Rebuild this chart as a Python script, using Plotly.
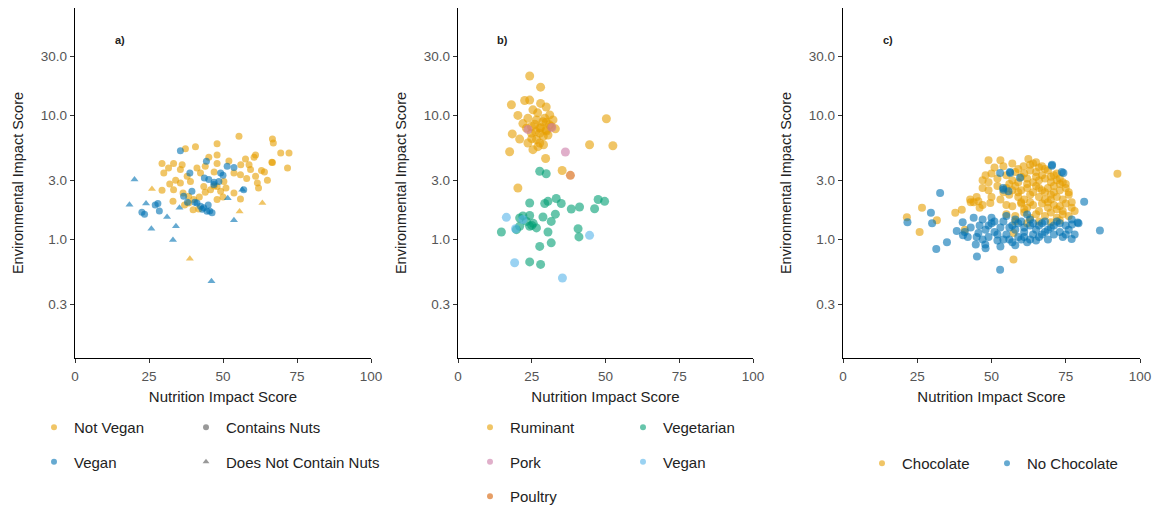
import plotly.graph_objects as go

# ---------------- Panel a: vegan status x nut content ----------------
a_nv_nuts_x = [37.3, 40.7, 48.0, 55.4, 66.7, 67.0, 69.5, 72.3, 71.8, 66.7, 61.0, 57.6, 48.0, 48.0,
               29.4, 33.3, 36.2, 30.0, 35.6, 37.9, 41.2, 35.6, 33.3, 29.4, 36.5, 38.4, 40.1, 33.1,
               38.4, 39.9, 41.8, 48.0, 49.2, 45.8, 50.3, 53.7, 55.9, 59.3, 61.0, 61.6, 58.8, 53.7,
               55.9, 48.0, 43.5, 39.0, 42.4, 45.2, 31.6, 60.5, 66.5, 64.0, 51.0,
               44.0, 47.0, 52.0, 56.0, 58.0, 63.0, 65.0, 62.0, 34.0, 32.0, 44.0, 50.0, 47.0, 42.0, 37.0]
a_nv_nuts_y = [5.4, 5.6, 5.9, 6.8, 6.45, 6.0, 4.97, 4.97, 3.77, 4.18, 4.8, 4.45, 4.8, 4.1,
               4.1, 4.1, 4.0, 3.44, 3.66, 3.23, 3.77, 2.86, 2.52, 2.5, 2.37, 2.23, 2.1, 2.03,
               1.97, 1.74, 1.76, 2.68, 2.45, 2.52, 2.94, 3.44, 3.33, 3.66, 3.23, 2.86, 4.0, 2.37,
               2.12, 2.1, 2.68, 2.94, 3.44, 4.6, 3.77, 4.6, 4.2, 3.5, 2.6,
               3.9, 3.5, 4.3, 4.0, 3.1, 3.6, 3.0, 2.6, 3.0, 2.8, 2.4, 2.2, 2.7, 2.2, 1.9]
a_nv_nonuts_x = [38.8, 63.3, 55.6, 26.0]
a_nv_nonuts_y = [0.70, 1.97, 1.68, 2.55]
a_v_nuts_x = [22.6, 23.5, 27.1, 28.0, 35.6, 38.8, 39.5, 41.2, 42.4, 43.5, 44.6, 46.3, 44.4, 43.7,
              45.2, 49.2, 51.4, 53.7, 46.9, 48.6, 57.0, 36.7, 40.5, 45.5,
              47.0, 50.0, 43.0, 45.0, 28.5, 38.0]
a_v_nuts_y = [1.66, 1.60, 1.90, 1.95, 5.2, 3.44, 2.45, 1.97, 1.85, 1.80, 1.69, 1.64, 4.27, 3.13,
              3.04, 3.44, 3.9, 3.8, 2.77, 2.94, 2.52, 2.23, 2.0, 1.7,
              2.9, 3.3, 1.75, 1.9, 1.7, 2.0]
a_v_nonuts_x = [20.1, 18.4, 24.0, 25.8, 31.1, 34.1, 33.1, 35.3, 53.7, 46.1, 51.6, 56.5]
a_v_nonuts_y = [3.04, 1.91, 1.95, 1.22, 1.52, 1.28, 0.99, 1.80, 1.43, 0.46, 2.15, 2.52]

# ---------------- Panel b: protein source ----------------
b_rum_x = [24.3, 28.0, 18.1, 22.6, 24.3, 20.3, 25.4, 29.9, 31.1, 29.4, 26.6, 24.9, 23.2, 27.7,
           29.9, 31.6, 18.4, 20.9, 23.7, 26.6, 28.9, 25.4, 27.1, 17.5, 24.9, 27.7, 29.7, 35.3,
           50.3, 44.6, 52.5, 20.3, 29.9, 32.2, 30.5, 27.7, 26.3, 28.8, 23.7,
           26.0, 28.0, 30.0, 27.0, 31.0, 25.0, 29.0, 22.0, 33.0, 28.0]
b_rum_y = [20.8, 16.9, 12.2, 13.2, 13.3, 10.0, 11.1, 11.7, 10.1, 9.5, 9.2, 8.15, 7.9, 7.9,
           7.65, 8.15, 7.1, 6.45, 6.0, 6.4, 6.8, 5.3, 5.6, 5.1, 7.2, 7.2, 4.5, 3.6,
           9.4, 5.8, 5.7, 2.6, 8.8, 9.2, 6.96, 6.0, 7.4, 8.9, 9.5,
           8.5, 8.0, 7.5, 10.5, 8.4, 6.5, 5.8, 8.6, 7.8, 12.5]
b_pork_x = [36.4, 31.8, 23.7]
b_pork_y = [5.07, 8.0, 7.7]
b_poultry_x = [38.1]
b_poultry_y = [3.29]
b_veg_x = [27.7, 29.9, 24.3, 29.4, 30.5, 33.3, 38.4, 41.2, 46.3, 47.5, 49.7, 20.9, 24.3, 28.8,
           31.6, 14.7, 19.8, 20.9, 24.3, 26.6, 30.5, 40.7, 41.0, 27.7, 31.6, 24.3, 28.0, 23.2, 25.5,
           25.0, 22.0, 33.0, 35.0]
b_veg_y = [3.55, 3.39, 1.97, 1.95, 2.03, 2.14, 1.76, 1.83, 1.77, 2.1, 2.03, 1.49, 1.56, 1.52,
           1.40, 1.15, 1.20, 1.28, 1.28, 1.24, 1.15, 1.22, 1.05, 0.88, 0.94, 0.66, 0.63, 1.40, 1.35,
           1.3, 1.55, 1.6, 1.95]
b_vegan_x = [16.4, 19.5, 19.2, 35.4, 44.6, 22.0]
b_vegan_y = [1.51, 1.22, 0.65, 0.49, 1.08, 1.45]

# ---------------- Panel c: chocolate content ----------------
c_choc_x = [49, 53, 62.4, 60.8, 64, 66,
            50, 55, 58, 61, 63, 65, 67, 69, 72,
            47, 49, 52, 57, 59, 62, 64, 66, 68, 70, 72, 74,
            47, 49, 55, 58, 60, 62, 65, 67, 69, 71, 73, 75,
            50, 53, 56, 59, 61, 63, 66, 68, 70, 72, 74, 76,
            55, 57, 60, 62, 64, 67, 69, 71, 73, 75, 77,
            55, 58, 61, 63, 65, 68, 70, 72, 74, 76,
            58, 62, 66, 70, 73,
            51, 54, 57, 59, 63, 65, 67, 68, 70, 71, 73, 75, 76, 77, 78, 60, 62, 64, 66, 68,
            70, 72, 74, 63, 61, 59, 57, 54, 52, 56, 48, 45, 43, 46, 66, 69, 71, 73, 65, 60,
            21.5, 26.6, 25.8, 31.6, 37.8, 40.0, 42.8, 45.6, 44.0, 49.6, 47.0, 57.4, 57.4, 92.4, 41.0]
c_choc_y = [4.35, 4.35, 4.45, 3.9, 4.1, 3.8,
            3.4, 3.3, 3.5, 3.4, 3.6, 3.5, 3.3, 3.6, 3.4,
            3.0, 2.9, 3.1, 3.0, 2.9, 3.1, 2.9, 3.0, 3.1, 2.9, 3.0, 2.9,
            2.6, 2.5, 2.6, 2.7, 2.5, 2.6, 2.7, 2.5, 2.6, 2.7, 2.5, 2.6,
            2.2, 2.1, 2.3, 2.2, 2.1, 2.3, 2.2, 2.1, 2.3, 2.2, 2.1, 2.3,
            1.9, 1.85, 1.95, 1.8, 1.9, 1.95, 1.8, 1.9, 1.85, 1.95, 1.8,
            1.6, 1.55, 1.65, 1.5, 1.6, 1.55, 1.65, 1.5, 1.6, 1.55,
            1.4, 1.35, 1.4, 1.38, 1.42,
            3.8, 3.9, 4.1, 3.7, 4.0, 4.2, 3.9, 3.7, 3.2, 3.3, 3.1, 2.8, 2.4, 2.0, 1.7, 3.2, 2.8, 2.4, 2.6, 2.4,
            2.1, 1.75, 1.7, 2.0, 1.75, 2.4, 2.5, 2.4, 2.7, 2.8, 3.3, 2.2, 2.0, 1.8, 1.7, 2.0, 2.4, 2.8, 3.2, 2.0,
            1.51, 1.80, 1.15, 1.43, 1.64, 1.74, 2.1, 2.03, 2.0, 1.97, 1.9, 1.13, 0.69, 3.39, 1.2]
c_nochoc_x = [21.7, 29.6, 30.0, 32.7, 31.4, 35.0, 38.3, 40.3, 40.4, 44.7, 45.6, 47.9, 45.1, 52.9,
              54.0, 55.7, 52.9, 56.3, 70.3, 74.2, 81.2, 79.3, 86.5, 77.0,
              46, 48, 49, 50, 51, 52, 53, 54, 55, 56, 57, 58, 59, 60, 61, 62, 63, 64, 65, 66,
              67, 68, 69, 70, 71, 72, 73, 74, 75, 76, 77, 78, 50, 55, 60, 63, 67, 43, 42, 48,
              53, 58, 44, 47, 53.9, 59.6, 56.2, 70.4, 73.7, 62.0, 77.1, 79.0,
              47, 49, 51, 52, 54, 56, 58, 59, 61, 63, 64, 66, 68, 69, 71, 73, 75, 57, 61, 65, 45, 41]
c_nochoc_y = [1.38, 1.64, 1.35, 2.37, 0.84, 0.95, 1.17, 1.38, 1.08, 0.91, 1.13, 0.91, 0.73, 0.57,
              2.52, 2.45, 3.44, 3.44, 3.93, 3.44, 2.02, 1.35, 1.18, 1.01,
              1.3, 1.2, 1.05, 1.35, 1.15, 0.98, 1.25, 1.4, 1.1, 1.0, 1.3, 1.2, 1.05, 1.4, 1.15, 0.95,
              1.3, 1.1, 1.2, 1.05, 1.35, 1.15, 1.0, 1.25, 1.1, 1.4, 1.15, 1.05, 1.3, 1.2, 1.45, 1.1,
              1.5, 1.55, 1.0, 1.45, 1.1, 1.25, 1.05, 0.85, 0.88, 0.9, 1.5, 1.45, 2.6, 3.15, 3.5,
              4.0, 3.5, 1.59, 1.32, 1.37,
              1.0, 1.3, 1.4, 1.1, 1.0, 1.25, 1.45, 1.35, 1.25, 1.0, 1.35, 1.3, 1.4, 1.2, 1.3, 1.35, 1.1,
              0.95, 1.05, 0.98, 1.05, 1.15]

ORANGE = "#E69F00"
BLUE = "#0072B2"
SKY = "#56B4E9"
GREEN = "#009E73"
PINK = "#CC79A7"
VERMILLION = "#D55E00"
GREY = "#555555"
ALPHA = 0.6

fig = go.Figure()


def scatter(x, y, color, size, ax, symbol="circle"):
    fig.add_trace(go.Scatter(
        x=x, y=y, mode="markers", showlegend=False, hoverinfo="x+y",
        xaxis="x" + ax, yaxis="y" + ax,
        marker=dict(color=color, size=size, symbol=symbol, opacity=ALPHA, line=dict(width=0)),
    ))


def legend_entry(name, color, legend, symbol="circle"):
    fig.add_trace(go.Scatter(
        x=[None], y=[None], mode="markers", name=name, legend=legend, legendgroup=name,
        marker=dict(color=color, size=6, symbol=symbol, opacity=ALPHA, line=dict(width=0)),
    ))


# panel a
scatter(a_nv_nuts_x, a_nv_nuts_y, ORANGE, 7, "")
scatter(a_nv_nonuts_x, a_nv_nonuts_y, ORANGE, 7, "", "triangle-up")
scatter(a_v_nuts_x, a_v_nuts_y, BLUE, 7, "")
scatter(a_v_nonuts_x, a_v_nonuts_y, BLUE, 7, "", "triangle-up")
# panel b
scatter(b_rum_x, b_rum_y, ORANGE, 9, "2")
scatter(b_veg_x, b_veg_y, GREEN, 9, "2")
scatter(b_vegan_x, b_vegan_y, SKY, 9, "2")
scatter(b_pork_x, b_pork_y, PINK, 9, "2")
scatter(b_poultry_x, b_poultry_y, VERMILLION, 9, "2")
# panel c
scatter(c_choc_x, c_choc_y, ORANGE, 8, "3")
scatter(c_nochoc_x, c_nochoc_y, BLUE, 8, "3")

# legends
legend_entry("Not Vegan", ORANGE, "legend")
legend_entry("Vegan", BLUE, "legend")
legend_entry("Contains Nuts", GREY, "legend2")
legend_entry("Does Not Contain Nuts", GREY, "legend2", "triangle-up")
legend_entry("Ruminant", ORANGE, "legend3")
legend_entry("Pork", PINK, "legend3")
legend_entry("Poultry", VERMILLION, "legend7")
legend_entry("Vegetarian", GREEN, "legend4")
legend_entry("Vegan ", SKY, "legend4")
legend_entry("Chocolate", ORANGE, "legend5")
legend_entry("No Chocolate", BLUE, "legend6")

W, H = 1157, 510
FONT = "Liberation Sans, Arial, sans-serif"
y_dom = [1 - 358 / H, 1 - 8 / H]
x_doms = [[75 / W, 371 / W], [458 / W, 753 / W], [843 / W, 1140 / W]]

tick_vals = [0.3, 1, 3, 10, 30]
tick_text = ["0.3", "1.0", "3.0", "10.0", "30.0"]

layout = dict(
    width=W, height=H,
    margin=dict(l=0, r=0, t=0, b=0, autoexpand=False),
    paper_bgcolor="white", plot_bgcolor="white",
    font=dict(family=FONT, size=13, color="#222222"),
)

for i, dom in enumerate(x_doms):
    suffix = "" if i == 0 else str(i + 1)
    anchor = "y" + suffix
    layout["xaxis" + suffix] = dict(
        domain=dom, anchor=anchor, range=[0, 100], tickvals=[0, 25, 50, 75, 100],
        showline=True, linecolor="black", linewidth=1.4, showgrid=False, zeroline=False,
        ticks="outside", ticklen=4, tickcolor="#333333", tickwidth=1,
        tickfont=dict(size=13.5, color="#555555"), ticklabelstandoff=2,
        title=dict(text="Nutrition Impact Score", font=dict(size=15, color="#222222"), standoff=8),
    )
    layout["yaxis" + suffix] = dict(
        domain=y_dom, anchor="x" + suffix, type="log", range=[-0.955, 1.866],
        tickvals=tick_vals, ticktext=tick_text,
        showline=True, linecolor="black", linewidth=1.4, showgrid=False, zeroline=False,
        ticks="outside", ticklen=4, tickcolor="#333333", tickwidth=1,
        tickfont=dict(size=13.5, color="#555555"),
        title=dict(text="Environmental Impact Score", font=dict(size=14.5, color="#222222"), standoff=13),
    )

leg_common = dict(
    font=dict(family=FONT, size=15, color="#222222"), bgcolor="rgba(0,0,0,0)",
    yanchor="top", xanchor="left", tracegroupgap=12, itemsizing="trace",
)
layout["legend"] = dict(leg_common, x=34 / W, y=1 - 411 / H)
layout["legend2"] = dict(leg_common, x=186 / W, y=1 - 411 / H)
layout["legend3"] = dict(leg_common, x=470 / W, y=1 - 411 / H)
layout["legend7"] = dict(leg_common, x=470 / W, y=1 - 480 / H)
layout["legend4"] = dict(leg_common, x=623 / W, y=1 - 411 / H)
layout["legend5"] = dict(leg_common, x=862 / W, y=1 - 447 / H)
layout["legend6"] = dict(leg_common, x=987 / W, y=1 - 447 / H)

fig.update_layout(**layout)

# panel tags
for ax, tag in [("", "a)"), ("2", "b)"), ("3", "c)")]:
    fig.add_annotation(
        x=15.2, y=1.609, xref="x" + ax, yref="y" + ax, text="<b>" + tag + "</b>",
        showarrow=False, font=dict(size=11, color="#222222"),
    )

fig.write_html("out.html")
